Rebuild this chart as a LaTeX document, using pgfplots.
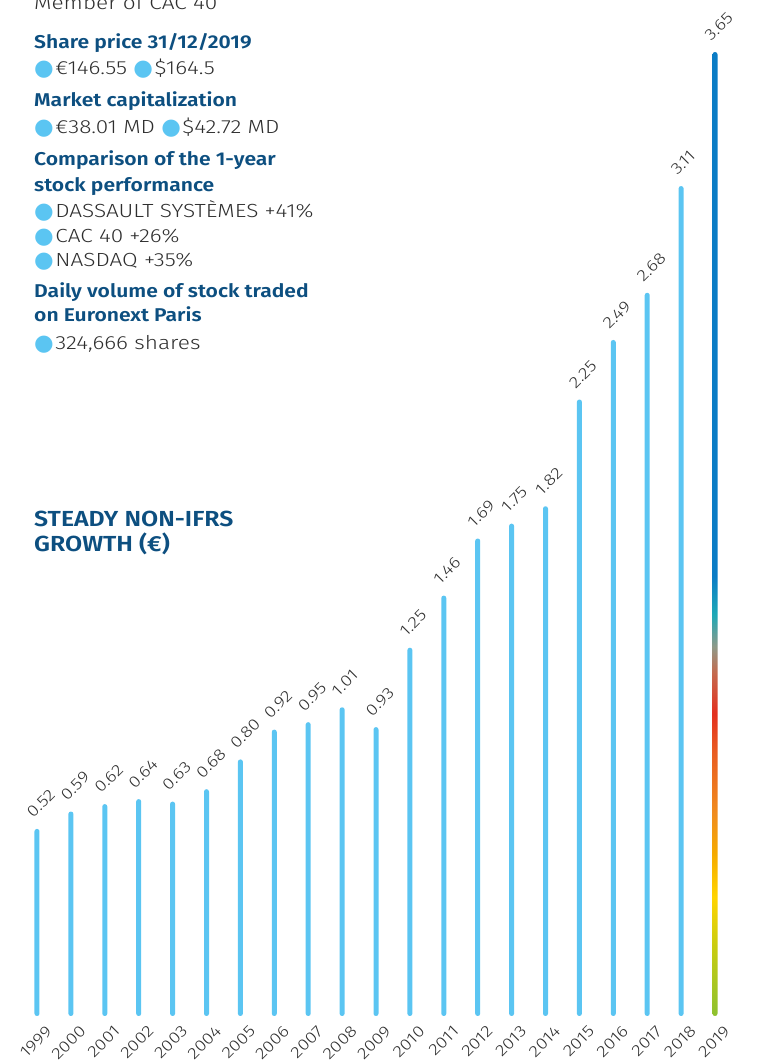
\documentclass[border=0pt]{standalone}
\usepackage{pgfplots}
\pgfplotsset{compat=1.18}
\usepackage{pgfplotstable}
\usepackage{fontspec}
\setmainfont{Fira Sans}[UprightFont={Fira Sans Light}, BoldFont={Fira Sans SemiBold}, UprightFeatures={FakeStretch=1.19}, BoldFeatures={FakeStretch=1.14}]
\newfontfamily\sym{DejaVu Sans}
\definecolor{lightb}{HTML}{5BC5F2}
\definecolor{darkb}{HTML}{0D4F80}
\definecolor{txt}{HTML}{2E2E2E}
\definecolor{g0}{HTML}{8DC130}
\definecolor{g1}{HTML}{C8CC10}
\definecolor{g2}{HTML}{FFD400}
\definecolor{g3}{HTML}{F5AA00}
\definecolor{g4}{HTML}{F08C1E}
\definecolor{g5}{HTML}{E95D22}
\definecolor{g6}{HTML}{E3301F}
\definecolor{g7}{HTML}{C46A4E}
\definecolor{g8}{HTML}{8F9988}
\definecolor{g9}{HTML}{1EA9B6}
\definecolor{g10}{HTML}{0B7CC5}
\pgfdeclareverticalshading{rainbow}{100bp}{color(0bp)=(g0); color(25bp)=(g0); color(28.6bp)=(g1); color(31.15bp)=(g2); color(33.45bp)=(g3); color(35.5bp)=(g4); color(38.65bp)=(g5); color(40.7bp)=(g6); color(42.8bp)=(g7); color(44.15bp)=(g8); color(45.8bp)=(g9); color(47.8bp)=(g10); color(75bp)=(g10); color(100bp)=(g10)}

\pgfplotstableread{
i v lab
0 0.52 0.52
1 0.59 0.59
2 0.62 0.62
3 0.64 0.64
4 0.63 0.63
5 0.68 0.68
6 0.80 0.80
7 0.92 0.92
8 0.95 0.95
9 1.01 1.01
10 0.93 0.93
11 1.25 1.25
12 1.46 1.46
13 1.69 1.69
14 1.75 1.75
15 1.82 1.82
16 2.25 2.25
17 2.49 2.49
18 2.68 2.68
19 3.11 3.11
}\bars
\pgfplotstableread{
i v lab
20 3.65 3.65
}\lastbar

\newcommand\bul{\raisebox{-0.8pt}{\sym\fontsize{22.5pt}{22.5pt}\selectfont\textcolor{lightb}{●}}\hspace{1.5pt}}
\newcommand\body{\fontsize{19pt}{19pt}\selectfont}
\newcommand\head{\fontsize{18.5pt}{18.5pt}\selectfont\bfseries}
\newcommand\ttl{\fontsize{21.8pt}{21.8pt}\selectfont\bfseries}
\newcommand\lab{\fontsize{16pt}{16pt}\selectfont}

\begin{document}
\begin{tikzpicture}
\useasboundingbox (0,0) rectangle (759pt,1064pt);
\begin{axis}[
  at={(0pt,48pt)}, anchor=south west,
  scale only axis, width=759pt, height=1016pt,
  xmin=-1.0914, xmax=21.298, ymin=0, ymax=4.0935,
  axis line style={draw=none}, tick style={draw=none},
  ytick=\empty, xtick={0,...,20},
  xticklabels={1999,2000,2001,2002,2003,2004,2005,2006,2007,2008,2009,2010,2011,2012,2013,2014,2015,2016,2017,2018,2019},
  major tick length=0pt,
  every tick label/.append style={font=\lab},
  xticklabel style={font=\lab, text=txt, inner sep=0pt, xshift=16pt, yshift=-16pt, rotate=45, anchor=base east},
  clip=false,
  nodes near coords, point meta=explicit symbolic,
  every node near coord/.append style={font=\lab},
  nodes near coords style={font=\lab, text=txt, inner sep=0pt, xshift=-4pt, yshift=10pt, rotate=45, anchor=base west},
]
\addplot[ybar, bar width=5pt, bar shift=0pt, draw=none, fill=lightb, rounded corners=2.4pt]
  table[x=i, y expr=\thisrow{v}+0.2337, meta=lab] {\bars};
\addplot[ybar, bar width=5pt, bar shift=0pt, draw=none, shading=rainbow, rounded corners=2.4pt]
  table[x=i, y expr=\thisrow{v}+0.2337, meta=lab] {\lastbar};
\end{axis}

\begin{scope}[every node/.style={anchor=base west, inner sep=0pt, text=txt}]
\node[font=\body] at (34pt,1054pt) {Member of CAC 40};
\node[font=\head, text=darkb] at (34pt,1015pt) {Share price 31/12/2019};
\node[font=\body] at (34pt,989pt) {\bul €146.55 \bul \$164.5};
\node[font=\head, text=darkb] at (34pt,957pt) {Market capitalization};
\node[font=\body] at (34pt,930pt) {\bul €38.01 MD \bul \$42.72 MD};
\node[font=\head, text=darkb] at (34pt,898pt) {Comparison of the 1-year};
\node[font=\head, text=darkb] at (34pt,872pt) {stock performance};
\node[font=\body] at (34pt,846pt) {\bul DASSAULT SYSTÈMES +41\%};
\node[font=\body] at (34pt,821pt) {\bul CAC 40 +26\%};
\node[font=\body] at (34pt,797pt) {\bul NASDAQ +35\%};
\node[font=\head, text=darkb] at (34pt,766pt) {Daily volume of stock traded};
\node[font=\head, text=darkb] at (34pt,742pt) {on Euronext Paris};
\node[font=\body] at (34pt,714pt) {\bul 324,666 shares};
\node[font=\ttl, text=darkb] at (34pt,537pt) {STEADY NON-IFRS};
\node[font=\ttl, text=darkb] at (34pt,512pt) {GROWTH (€)};
\end{scope}
\end{tikzpicture}
\end{document}
